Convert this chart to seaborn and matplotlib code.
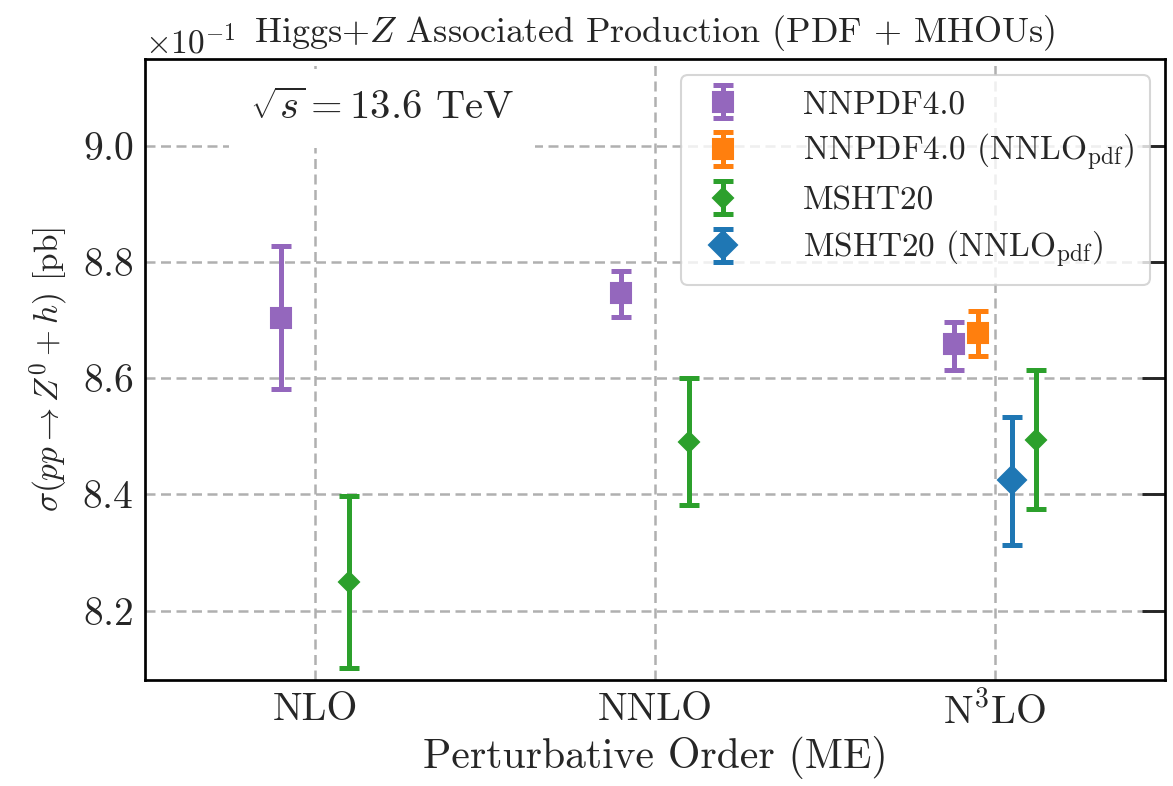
import numpy as np
import matplotlib
matplotlib.use("Agg")
import matplotlib.pyplot as plt
import seaborn as sns

# ---------------- data ----------------
orders = ["NLO", "NNLO", r"N$^3$LO"]

nnpdf_val = [0.8704, 0.8746, 0.8658]
nnpdf_lo = [0.8582, 0.8706, 0.8614]
nnpdf_hi = [0.8828, 0.8785, 0.8697]

nnpdf_nnlo_val = [0.8678]
nnpdf_nnlo_lo = [0.8638]
nnpdf_nnlo_hi = [0.8716]

msht_val = [0.8249, 0.8490, 0.8494]
msht_lo = [0.8102, 0.8381, 0.8375]
msht_hi = [0.8397, 0.8601, 0.8614]

msht_nnlo_val = [0.8424]
msht_nnlo_lo = [0.8313]
msht_nnlo_hi = [0.8533]

# ---------------- style ----------------
sns.set_style("white")
plt.rcParams["font.family"] = "serif"
plt.rcParams["font.serif"] = ["cmr10"]
plt.rcParams["mathtext.fontset"] = "cm"
plt.rcParams["axes.formatter.use_mathtext"] = True
plt.rcParams["axes.unicode_minus"] = False

W, H = 1173, 786
fig = plt.figure(figsize=(W / 150, H / 150), dpi=150)
ax = fig.add_axes([145 / W, 1 - 680 / H, (1165 - 145) / W, (680 - 58.5) / H])

x = np.arange(len(orders))
offsets = {"nnpdf": [-0.10, -0.10, -0.12], "nnpdf_nnlo": -0.05,
           "msht": [0.10, 0.10, 0.12], "msht_nnlo": 0.05}

eb_kw = dict(linestyle="none", elinewidth=2.4, capsize=4.8, capthick=2.4, zorder=3)


def err(v, lo, hi):
    v, lo, hi = map(np.asarray, (v, lo, hi))
    return np.vstack([v - lo, hi - v])


ax.errorbar(x + np.array(offsets["nnpdf"]), nnpdf_val, yerr=err(nnpdf_val, nnpdf_lo, nnpdf_hi),
            fmt="s", ms=9.6, color="#9467bd", label="NNPDF4.0", **eb_kw)
ax.errorbar(x[2:] + offsets["nnpdf_nnlo"], nnpdf_nnlo_val,
            yerr=err(nnpdf_nnlo_val, nnpdf_nnlo_lo, nnpdf_nnlo_hi),
            fmt="s", ms=9.6, color="#ff7f0e", label=r"NNPDF4.0 (NNLO$_{\rm pdf}$)", **eb_kw)
ax.errorbar(x + np.array(offsets["msht"]), msht_val, yerr=err(msht_val, msht_lo, msht_hi),
            fmt="D", ms=7, color="#2ca02c", label="MSHT20", **eb_kw)
ax.errorbar(x[2:] + offsets["msht_nnlo"], msht_nnlo_val,
            yerr=err(msht_nnlo_val, msht_nnlo_lo, msht_nnlo_hi),
            fmt="D", ms=9.2, color="#1f77b4", label=r"MSHT20 (NNLO$_{\rm pdf}$)", **eb_kw)

ax.set_xlim(-0.5, 2.5)
ax.set_ylim(0.80807, 0.9150)
ax.set_xticks(x)
ax.set_xticklabels(orders)
ax.set_yticks([0.82, 0.84, 0.86, 0.88, 0.90])
ax.ticklabel_format(axis="y", style="sci", scilimits=(0, 0), useMathText=True)
ax.yaxis.get_offset_text().set_fontsize(16)

ax.grid(True, linestyle=(0, (4, 2.2)), color="#b0b0b0", linewidth=1.2, zorder=0)
ax.tick_params(axis="both", which="major", direction="in", length=11, width=1.4,
               labelsize=19, right=True, top=False)
ax.tick_params(axis="y", pad=5.5)
ax.tick_params(axis="x", pad=6)
for s in ax.spines.values():
    s.set_linewidth(1.3)
    s.set_color("black")

ax.set_xlabel("Perturbative Order (ME)", fontsize=20, labelpad=2)
ax.set_ylabel(r"$\sigma(pp \to Z^0 + h)$ [pb]", fontsize=16, labelpad=6)
ax.set_title(r"Higgs+$Z$ Associated Production (PDF + MHOUs)", fontsize=17.3, pad=8)

ax.text(0.103, 0.9196, r"$\sqrt{s} = 13.6$ TeV", transform=ax.transAxes, fontsize=19.5,
        ha="left", va="center", zorder=4,
        bbox=dict(facecolor="white", edgecolor="none", pad=10))

leg = ax.legend(loc="upper right", bbox_to_anchor=(0.985, 0.9735), borderaxespad=0,
                fontsize=16, frameon=True, fancybox=True, framealpha=0.8,
                edgecolor="#cccccc", handlelength=1.6, handletextpad=1.6,
                labelspacing=0.38, borderpad=0.45)
leg.set_zorder(5)

fig.savefig("out.png", dpi=150)
